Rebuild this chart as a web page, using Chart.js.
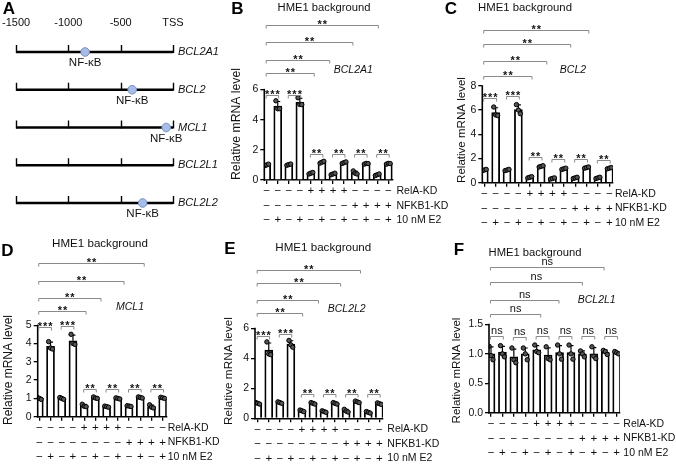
<!DOCTYPE html>
<html>
<head>
<meta charset="utf-8">
<script src="https://cdn.jsdelivr.net/npm/chart.js@4.4.1/dist/chart.umd.min.js"></script>
<style>
html, body { margin: 0; padding: 0; background: #fff; }
#wrap { position: relative; width: 676px; height: 467px; overflow: hidden; background: #fff; }
canvas { position: absolute; }
</style>
</head>
<body>
<div id="wrap"></div>
<script>
// =====================
//  DATA
// =====================
// +/- rows under every bar panel
const relaRow  = ["−","−","−","−","+","+","+","+","−","−","−","−"];
const nfkb1Row = ["−","−","−","−","−","−","−","−","+","+","+","+"];
const e2Row    = ["−","+","−","+","−","+","−","+","−","+","−","+"];
const rowNames = ["RelA-KD", "NFKB1-KD", "10 nM E2"];

// panel A: promoter schematic
const promoterGenes = ["BCL2A1", "BCL2", "MCL1", "BCL2L1", "BCL2L2"];
const nfkbSites = [-840, -390, -65, null, -290];
const promoterTicks = [-1500, -1000, -500, 0];
const promoterTickLabels = ["-1500", "-1000", "-500", "TSS"];

// panel B: BCL2A1
const bcl2a1Mean = [1.0, 4.9, 1.02, 5.15, 0.45, 1.18, 0.4, 1.15, 0.48, 1.08, 0.35, 1.08];
const bcl2a1Pts = [[0.95,1.0,1.05],[5.25,4.72,4.73],[0.98,1.02,1.06],[5.45,5.0,5.0],[0.4,0.45,0.5],[1.12,1.18,1.24],
                   [0.35,0.4,0.45],[1.1,1.15,1.2],[0.6,0.45,0.4],[1.05,1.1,1.09],[0.3,0.35,0.4],[1.05,1.1,1.09]];
const bcl2a1Ticks = [0, 2, 4, 6];
const bcl2a1Sig = ["***","***","**","**","**","**"];
const bcl2a1SigY = [5.62, 5.62, 1.72, 1.72, 1.72, 1.72];
const bcl2a1LongEnd = [4.3, 5.7, 7.8, 10.1];
const bcl2a1LongY = [7.1, 7.98, 9.15, 10.25];

// panel C: BCL2
const bcl2Mean = [1.05, 5.8, 1.05, 6.05, 0.45, 1.35, 0.35, 1.15, 0.4, 1.25, 0.4, 1.2];
const bcl2Pts = [[1.0,1.05,1.1],[6.25,5.6,5.55],[1.0,1.05,1.1],[6.45,6.0,5.7],[0.4,0.45,0.5],[1.3,1.35,1.4],
                 [0.3,0.35,0.4],[1.1,1.15,1.2],[0.35,0.4,0.45],[1.2,1.25,1.3],[0.35,0.4,0.45],[1.15,1.2,1.25]];
const bcl2Ticks = [0, 2, 4, 6, 8];
const bcl2Sig = ["***","***","**","**","**","**"];
const bcl2SigY = [6.96, 7.2, 2.09, 1.93, 1.93, 1.9];
const bcl2LongEnd = [4.2, 5.5, 7.6, 9.2];
const bcl2LongY = [8.8, 10.04, 11.5, 12.65];

// panel D: MCL1
const mcl1Mean = [1.0, 3.85, 1.0, 4.15, 0.6, 1.03, 0.55, 1.0, 0.58, 1.05, 0.55, 1.03];
const mcl1Pts = [[1.05,1.0,0.95],[4.1,3.75,3.7],[1.05,1.0,0.95],[4.5,4.0,3.95],[0.68,0.57,0.55],[1.08,1.02,1.0],
                 [0.58,0.55,0.52],[1.03,1.0,0.97],[0.6,0.58,0.56],[1.08,1.05,1.02],[0.65,0.52,0.48],[1.06,1.03,1.0]];
const mcl1Ticks = [0, 1, 2, 3, 4, 5];
const mcl1Sig = ["***","***","**","**","**","**"];
const mcl1SigY = [4.88, 4.95, 1.5, 1.5, 1.5, 1.5];
const mcl1LongEnd = [4.17, 5.5, 7.56, 9.35];
const mcl1LongY = [5.77, 6.46, 7.4, 8.37];

// panel E: BCL2L2
const bcl2l2Mean = [1.0, 4.55, 1.05, 4.95, 0.5, 1.0, 0.45, 1.0, 0.5, 1.1, 0.4, 0.98];
const bcl2l2Pts = [[1.05,1.0,0.95],[5.1,4.3,4.25],[1.1,1.05,1.0],[5.2,4.9,4.75],[0.55,0.5,0.45],[1.05,1.0,0.95],
                   [0.5,0.45,0.4],[1.05,1.0,0.95],[0.6,0.48,0.42],[1.15,1.1,1.05],[0.45,0.4,0.35],[1.03,0.98,0.93]];
const bcl2l2Ticks = [0, 2, 4, 6];
const bcl2l2Sig = ["***","***","**","**","**","**"];
const bcl2l2SigY = [5.5, 5.62, 1.63, 1.63, 1.63, 1.63];
const bcl2l2LongEnd = [4.07, 5.5, 7.5, 9.3];
const bcl2l2LongY = [7.0, 7.93, 9.04, 9.93];

// panel F: BCL2L1
const bcl2l1Mean = [1.0, 1.03, 0.95, 1.0, 1.07, 0.98, 1.02, 1.02, 1.0, 1.0, 1.03, 1.02];
const bcl2l1Pts = [[1.13,0.97,0.9],[1.14,1.0,0.95],[1.1,0.9,0.85],[1.1,1.0,0.9],[1.15,1.04,1.02],[1.12,0.92,0.9],
                   [1.15,1.0,0.91],[1.15,1.0,0.91],[1.05,1.0,0.95],[1.12,0.96,0.92],[1.06,1.04,0.99],[1.04,1.02,1.0]];
const bcl2l1Ticks = [0, 0.5, 1.0, 1.5];
const bcl2l1Sig = ["ns","ns","ns","ns","ns","ns"];
const bcl2l1SigY = [1.31, 1.29, 1.31, 1.31, 1.31, 1.31];
const bcl2l1LongEnd = [4.35, 5.95, 8.0, 9.9];
const bcl2l1LongY = [1.68, 1.92, 2.22, 2.47];


// =====================
//  COMMON
// =====================
const FONT = "'Liberation Sans', Arial, Helvetica, sans-serif";
Chart.defaults.font.family = FONT;
Chart.defaults.color = "#111";

function addCanvas(box) {
    const c = document.createElement("canvas");
    c.width = box[2];
    c.height = box[3];
    c.style.left = box[0] + "px";
    c.style.top = box[1] + "px";
    document.getElementById("wrap").appendChild(c);
    return c;
}

function sd(a) {
    const m = a.reduce((s, v) => s + v, 0) / a.length;
    return Math.sqrt(a.reduce((s, v) => s + (v - m) * (v - m), 0) / (a.length - 1));
}

// font size chosen so that the text gets the width measured on the figure
function fitFont(ctx, txt, style, target) {
    const pre = style ? style + " " : "";
    ctx.font = pre + "10px " + FONT;
    const s = 10 * target / ctx.measureText(txt).width;
    return pre + s.toFixed(2) + "px " + FONT;
}


// =====================
//  PANEL A (promoter map)
// =====================
(function () {
    const box = [0, 0, 230, 230];
    const cv = addCanvas(box);
    const rowStep = 37.75;

    const lineSets = promoterGenes.map((g, i) => ({
        data: [{ x: -1500, y: i }, { x: 0, y: i }],
        showLine: true,
        borderColor: "#000",
        borderWidth: 2.6,
        pointRadius: 0,
        order: 2
    }));
    const sites = nfkbSites.map((v, i) => (v === null ? null : { x: v, y: i })).filter(Boolean);

    new Chart(cv, {
        type: "scatter",
        data: {
            datasets: [
                ...lineSets,
                {
                    data: sites,
                    pointRadius: 4.3,
                    backgroundColor: "#a9bde4",
                    borderColor: "#7391c7",
                    borderWidth: 1,
                    order: 1
                }
            ]
        },
        options: {
            responsive: false,
            animation: false,
            events: [],
            layout: { padding: { left: 12, right: 57, top: 0, bottom: 15 } },
            plugins: { legend: { display: false }, tooltip: { enabled: false } },
            scales: {
                x: {
                    type: "linear",
                    position: "top",
                    min: -1500,
                    max: 0,
                    afterFit: (s) => { s.height = 40; },
                    afterBuildTicks: (s) => { s.ticks = promoterTicks.map((v) => ({ value: v })); },
                    ticks: {
                        autoSkip: false,
                        maxRotation: 0,
                        padding: 2,
                        font: { size: 11 },
                        color: "#111",
                        callback: (v, i) => promoterTickLabels[i]
                    },
                    grid: { display: false },
                    border: { display: false }
                },
                y: {
                    display: false,
                    reverse: true,
                    min: -12 / rowStep,
                    max: 4 + 12 / rowStep
                }
            }
        },
        plugins: [{
            id: "promoterDeco",
            afterDatasetsDraw(chart) {
                const ctx = chart.ctx, xs = chart.scales.x, ys = chart.scales.y;
                ctx.save();
                // tick marks on each promoter line
                ctx.strokeStyle = "#000";
                ctx.lineWidth = 1.4;
                promoterGenes.forEach((g, i) => {
                    const y = ys.getPixelForValue(i);
                    promoterTicks.forEach((t) => {
                        const x = Math.round(xs.getPixelForValue(t)) + 0.5;
                        ctx.beginPath();
                        ctx.moveTo(x, y - 7);
                        ctx.lineTo(x, y + 1);
                        ctx.stroke();
                    });
                    // gene names
                    ctx.fillStyle = "#111";
                    ctx.font = "italic 11px " + FONT;
                    ctx.textAlign = "left";
                    ctx.textBaseline = "middle";
                    ctx.fillText(g, xs.getPixelForValue(0) + 5, y);
                    // NF-kB label below the site
                    if (nfkbSites[i] !== null) {
                        ctx.font = "11.5px " + FONT;
                        ctx.textAlign = "center";
                        ctx.fillText("NF-κB", xs.getPixelForValue(nfkbSites[i]), y + 11);
                    }
                });
                // panel letter
                ctx.font = "bold 17px " + FONT;
                ctx.textAlign = "center";
                ctx.textBaseline = "middle";
                ctx.fillStyle = "#000";
                ctx.fillText("A", 9 - box[0], 9 - box[1]);
                ctx.restore();
            }
        }]
    });
})();


// =====================
//  BAR PANELS (B - F)
// =====================
const barPanels = [
    { letter: "B", gene: "BCL2A1", mean: bcl2a1Mean, pts: bcl2a1Pts, ticks: bcl2a1Ticks,
      sig: bcl2a1Sig, sigY: bcl2a1SigY, longEnd: bcl2a1LongEnd, longY: bcl2a1LongY, longSig: "**",
      box: [222, 0, 232, 230], axisX: 264.3, firstBar: 266.7, lastBar: 388.3, axisEnd: 393,
      zeroY: 180, topY: 89.3, chartTop: 8,
      letterAt: [237.5, 9], titleAt: [324, 8, 93], geneAt: [353.3, 70], yTitleAt: [236.7, 124, 112], rowX: 396.5 },
    { letter: "C", gene: "BCL2", mean: bcl2Mean, pts: bcl2Pts, ticks: bcl2Ticks,
      sig: bcl2Sig, sigY: bcl2SigY, longEnd: bcl2LongEnd, longY: bcl2LongY, longSig: "**",
      box: [444, 0, 232, 230], axisX: 482.3, firstBar: 484.3, lastBar: 609.3, axisEnd: 613,
      zeroY: 182.7, topY: 85.7, chartTop: 8,
      letterAt: [451, 9], titleAt: [525, 8, 94], geneAt: [573, 70], yTitleAt: [461.7, 130, 106], rowX: 615 },
    { letter: "D", gene: "MCL1", mean: mcl1Mean, pts: mcl1Pts, ticks: mcl1Ticks,
      sig: mcl1Sig, sigY: mcl1SigY, longEnd: mcl1LongEnd, longY: mcl1LongY, longSig: "**",
      box: [0, 230, 230, 237], axisX: 37.7, firstBar: 39.3, lastBar: 162.7, axisEnd: 166.7,
      zeroY: 416.7, topY: 325, chartTop: 238,
      letterAt: [7.5, 251], titleAt: [100, 244, 96], geneAt: [130, 307.5], yTitleAt: [9, 370, 110], rowX: 167.7 },
    { letter: "E", gene: "BCL2L2", mean: bcl2l2Mean, pts: bcl2l2Pts, ticks: bcl2l2Ticks,
      sig: bcl2l2Sig, sigY: bcl2l2SigY, longEnd: bcl2l2LongEnd, longY: bcl2l2LongY, longSig: "**",
      box: [222, 230, 232, 237], axisX: 255, firstBar: 257.7, lastBar: 379.3, axisEnd: 383,
      zeroY: 418.3, topY: 328.3, chartTop: 238,
      letterAt: [230, 249.5], titleAt: [323.3, 247.5, 96], geneAt: [346.7, 309], yTitleAt: [229, 371, 108], rowX: 387.3 },
    { letter: "F", gene: "BCL2L1", mean: bcl2l1Mean, pts: bcl2l1Pts, ticks: bcl2l1Ticks,
      sig: bcl2l1Sig, sigY: bcl2l1SigY, longEnd: bcl2l1LongEnd, longY: bcl2l1LongY, longSig: "ns",
      box: [444, 230, 232, 237], axisX: 489, firstBar: 491, lastBar: 616.7, axisEnd: 620,
      zeroY: 412.7, topY: 324.3, chartTop: 238, dec: true,
      letterAt: [459, 250], titleAt: [535, 252.5, 93], geneAt: [596.7, 300], yTitleAt: [456.7, 370.5, 106], rowX: 623.3 }
];

const ROW_LH = 14.5;   // spacing of the +/- rows
const TICK_LEN = 4;

function drawBracket(ctx, x1, x2, y, txt) {
    y = Math.round(y) + 0.5;
    ctx.strokeStyle = "#8a8a8a";
    ctx.lineWidth = 1;
    ctx.beginPath();
    ctx.moveTo(x1, y + 3);
    ctx.lineTo(x1, y);
    ctx.lineTo(x2, y);
    ctx.lineTo(x2, y + 3);
    ctx.stroke();
    ctx.fillStyle = "#111";
    ctx.textAlign = "center";
    ctx.textBaseline = "alphabetic";
    if (txt === "ns") {
        ctx.font = "11px " + FONT;
        ctx.fillText(txt, (x1 + x2) / 2, y - 3);
    } else {
        ctx.font = "bold 11px " + FONT;
        ctx.letterSpacing = "1px";
        ctx.fillText(txt, (x1 + x2) / 2 + 0.5, y + 2);
        ctx.letterSpacing = "0px";
    }
}

function barPanel(p) {
    const cv = addCanvas(p.box);
    const ox = p.box[0], oy = p.box[1], w = p.box[2], h = p.box[3];
    const L = p.axisX - ox, R = p.axisEnd - ox;
    const B = p.zeroY - oy, T = p.chartTop - oy;
    const step = (p.lastBar - p.firstBar) / 11;
    const xmin = -(p.firstBar - p.axisX) / step;
    const xmax = 11 + (p.axisEnd - p.lastBar) / step;
    const topTick = p.ticks[p.ticks.length - 1];
    const perUnit = (p.zeroY - p.topY) / topTick;
    const ymax = (p.zeroY - p.chartTop) / perUnit;
    const jitter = [-0.17, 0, 0.17];

    const dots = [];
    p.pts.forEach((arr, i) => arr.forEach((v, k) => dots.push({ x: i + jitter[k], y: v })));

    const deco = {
        id: "deco" + p.letter,
        beforeDatasetDraw(chart, args) {
            if (args.index !== 1) return;
            const ctx = chart.ctx, xs = chart.scales.x, ys = chart.scales.y;
            ctx.save();
            ctx.strokeStyle = "#000";
            ctx.lineWidth = 1.2;
            p.mean.forEach((m, i) => {
                const e = sd(p.pts[i]);
                const x = xs.getPixelForValue(i);
                const y0 = ys.getPixelForValue(m), y1 = ys.getPixelForValue(m + e);
                ctx.beginPath();
                ctx.moveTo(x, y0);
                ctx.lineTo(x, y1);
                ctx.moveTo(x - 2.5, y1);
                ctx.lineTo(x + 2.5, y1);
                ctx.stroke();
            });
            ctx.restore();
        },
        afterDraw(chart) {
            const ctx = chart.ctx, xs = chart.scales.x, ys = chart.scales.y;
            ctx.save();
            // y axis line, only up to the top tick
            ctx.strokeStyle = "#000";
            ctx.lineWidth = 1.6;
            ctx.beginPath();
            ctx.moveTo(xs.left, ys.getPixelForValue(0) + 0.8);
            ctx.lineTo(xs.left, ys.getPixelForValue(topTick) - 0.6);
            ctx.stroke();

            // panel letter, title, gene name
            ctx.fillStyle = "#000";
            ctx.textAlign = "center";
            ctx.textBaseline = "middle";
            ctx.font = "bold 17px " + FONT;
            ctx.fillText(p.letter, p.letterAt[0] - ox, p.letterAt[1] - oy);
            ctx.fillStyle = "#111";
            ctx.font = fitFont(ctx, "HME1 background", "", p.titleAt[2]);
            ctx.fillText("HME1 background", p.titleAt[0] - ox, p.titleAt[1] - oy);
            ctx.font = "italic 10.5px " + FONT;
            ctx.fillText(p.gene, p.geneAt[0] - ox, p.geneAt[1] - oy);

            // y title
            ctx.save();
            ctx.translate(p.yTitleAt[0] - ox, p.yTitleAt[1] - oy);
            ctx.rotate(-Math.PI / 2);
            ctx.font = fitFont(ctx, "Relative mRNA level", "", p.yTitleAt[2]);
            ctx.fillText("Relative mRNA level", 0, 0);
            ctx.restore();

            // row names next to the +/- rows
            ctx.font = "10.5px " + FONT;
            ctx.textAlign = "left";
            rowNames.forEach((n, i) => {
                ctx.fillText(n, p.rowX - ox, xs.top + TICK_LEN + ROW_LH * (i + 0.5));
            });

            // pairwise brackets
            p.sig.forEach((s, k) => {
                drawBracket(ctx, xs.getPixelForValue(2 * k - 0.05), xs.getPixelForValue(2 * k + 1.08),
                    ys.getPixelForValue(p.sigY[k]), s);
            });
            // brackets against the first bar
            p.longEnd.forEach((e, k) => {
                drawBracket(ctx, xs.getPixelForValue(-0.05), xs.getPixelForValue(e),
                    ys.getPixelForValue(p.longY[k]), p.longSig);
            });
            ctx.restore();
        }
    };

    new Chart(cv, {
        type: "bar",
        data: {
            datasets: [
                {
                    type: "bar",
                    data: p.mean.map((v, i) => ({ x: i, y: v })),
                    backgroundColor: "#fff",
                    borderColor: "#000",
                    borderWidth: 1.8,
                    barThickness: 8,
                    order: 2
                },
                {
                    type: "scatter",
                    data: dots,
                    pointRadius: 2.2,
                    backgroundColor: "#555",
                    borderColor: "#000",
                    borderWidth: 1,
                    order: 1
                }
            ]
        },
        options: {
            responsive: false,
            animation: false,
            events: [],
            layout: { padding: { left: 0, right: w - R, top: T, bottom: 0 } },
            plugins: { legend: { display: false }, tooltip: { enabled: false } },
            scales: {
                x: {
                    type: "linear",
                    offset: false,
                    min: xmin,
                    max: xmax,
                    afterFit: (s) => { s.height = h - B; },
                    afterBuildTicks: (s) => { s.ticks = relaRow.map((_, i) => ({ value: i })); },
                    ticks: {
                        autoSkip: false,
                        maxRotation: 0,
                        minRotation: 0,
                        padding: 0,
                        color: "#111",
                        font: { size: 11.5, lineHeight: ROW_LH + "px" },
                        callback: (v) => [relaRow[v], nfkb1Row[v], e2Row[v]]
                    },
                    grid: { offset: false, drawOnChartArea: false, tickLength: TICK_LEN, color: "#000", lineWidth: 1.3 },
                    border: { color: "#000", width: 1.6 }
                },
                y: {
                    min: 0,
                    max: ymax,
                    afterFit: (s) => { s.width = L; },
                    afterBuildTicks: (s) => { s.ticks = p.ticks.map((v) => ({ value: v })); },
                    ticks: {
                        padding: 2,
                        color: "#111",
                        font: { size: 10.5 },
                        callback: (v) => (p.dec ? v.toFixed(1) : String(v))
                    },
                    grid: { drawOnChartArea: false, tickLength: TICK_LEN, color: "#000", lineWidth: 1.3 },
                    border: { display: false }
                }
            }
        },
        plugins: [deco]
    });
}

barPanels.forEach(barPanel);
</script>
</body>
</html>
